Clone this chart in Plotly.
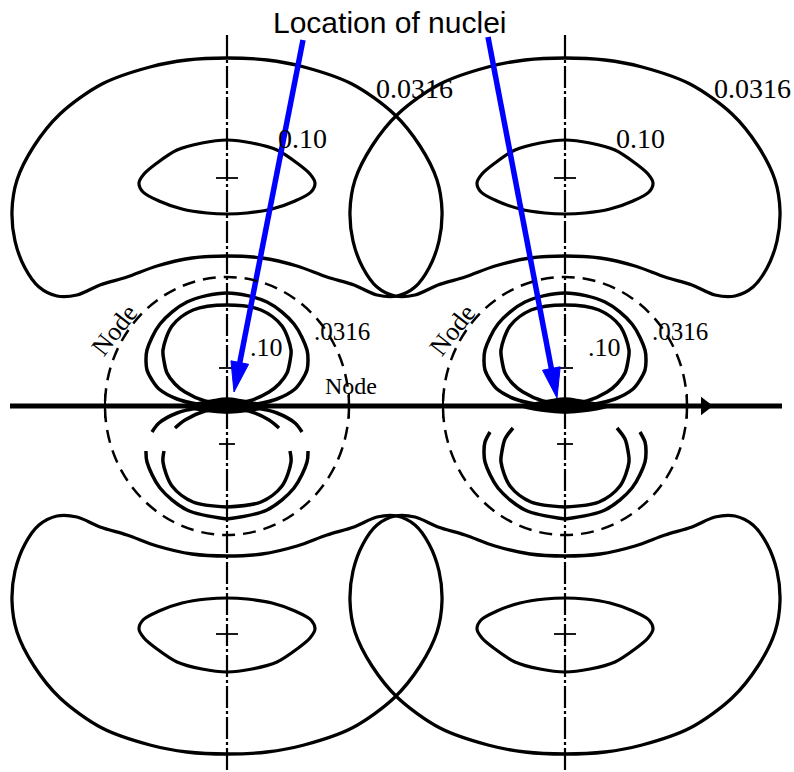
import numpy as np
import plotly.graph_objects as go

# ---------------------------------------------------------------------------
# Contour diagram of two 3p-type orbitals on neighbouring nuclei.
# Drawing units: 1 unit = 100 px, nucleus A at the origin.
# ---------------------------------------------------------------------------
nuclei_x = [0.0, 3.38]

# 0.0316 contour, large outer lobe (upper half-plane), right half of the loop,
# from the top of the symmetry axis round to the inner dip.
outer_lobe_dx = [0.00, 0.40, 0.77, 1.25, 1.67, 1.93, 2.10, 2.15, 2.12, 2.02, 1.88, 1.70, 1.50, 1.27, 1.00, 0.70, 0.35, 0.00]
outer_lobe_dy = [3.48, 3.46, 3.39, 3.22, 2.92, 2.60, 2.26, 1.95, 1.65, 1.38, 1.19, 1.10, 1.11, 1.21, 1.29, 1.40, 1.48, 1.50]

# 0.10 contour inside the outer lobe
mid_loop_dx = [0.00, 0.25, 0.50, 0.70, 0.83, 0.88, 0.84, 0.68, 0.45, 0.20, 0.00]
mid_loop_dy = [2.66, 2.63, 2.56, 2.43, 2.32, 2.23, 2.14, 2.05, 1.97, 1.93, 1.92]

# inner lobes, inside the radial node: 0.0316 and 0.10 contours
inner_0316_dx = [0.00, 0.40, 0.67, 0.80, 0.81, 0.80, 0.75, 0.68, 0.50, 0.30, 0.10, 0.00]
inner_0316_dy = [1.13, 1.04, 0.82, 0.56, 0.45, 0.36, 0.26, 0.17, 0.07, 0.02, 0.00, 0.00]
inner_010_dx = [0.00, 0.34, 0.55, 0.64, 0.63, 0.60, 0.52, 0.42, 0.22, 0.00]
inner_010_dy = [1.01, 0.96, 0.80, 0.56, 0.45, 0.33, 0.22, 0.14, 0.05, 0.02]

# stretches of the lower inner lobes that are not inked (dy ranges), per nucleus
lower_gaps = [(-0.42, -0.27), (-0.22, 0.01)]

# radial node (dashed), semi-axes
node_rx = 1.22
node_ry = 1.29

# blackened region round each nucleus
blob_dx = [-0.45, -0.30, -0.15, 0.00, 0.15, 0.30, 0.45, 0.30, 0.15, 0.00, -0.15, -0.30]
blob_dy = [0.00, 0.03, 0.06, 0.08, 0.06, 0.03, 0.00, -0.04, -0.06, -0.07, -0.06, -0.04]

# short cross ticks on the vertical axes (dy)
axis_tick_dy = [2.28, -2.28, 0.38, -0.38]
axis_tick_half = [0.11, 0.11, 0.08, 0.08]

# internuclear axis extent and its arrow
z_axis_x = [-2.17, 5.55]
z_arrow_x = [4.78]
vert_axis_dy = [3.71, -3.70]

# contour labels (dx, dy relative to each nucleus, text, size)
label_dx = [1.87, 0.75, 1.15, 0.39]
label_dy = [3.18, 2.68, 0.75, 0.585]
label_txt = ["0.0316", "0.10", ".0316", ".10"]
label_size = [28, 28, 25, 26]

# pointer arrows: tails at the caption, tips at the nuclei
arrow_tail_x = [0.76, 2.61]
arrow_tail_y = [3.66, 3.69]
arrow_tip_x = [0.07, 3.30]
arrow_tip_y = [0.14, 0.08]
caption = "Location of nuclei"
caption_xy = (1.63, 3.84)

X_RANGE = [-2.27, 5.67]
Y_RANGE = [-3.66, 4.06]

fig = go.Figure()


def closed_loop(dx, dy):
    """Mirror a right-half profile into a closed loop."""
    xs = list(dx) + [-v for v in reversed(dx[:-1])]
    ys = list(dy) + list(reversed(dy[:-1]))
    return np.array(xs), np.array(ys)


def add_line(xs, ys, width=3.0, color="black", dash=None, shape="spline"):
    fig.add_trace(go.Scatter(
        x=xs, y=ys, mode="lines",
        line=dict(color=color, width=width, shape=shape, smoothing=0.9,
                  dash=dash),
        hoverinfo="skip", showlegend=False, connectgaps=False))


def split_gap(xs, ys, gap):
    lo, hi = gap
    ox, oy = [], []
    prev_gap = False
    for x, y in zip(xs, ys):
        if lo < y < hi:
            if not prev_gap:
                ox.append(None)
                oy.append(None)
            prev_gap = True
            continue
        prev_gap = False
        ox.append(x)
        oy.append(y)
    return ox, oy


ox, oy = closed_loop(outer_lobe_dx, outer_lobe_dy)
mx, my = closed_loop(mid_loop_dx, mid_loop_dy)
ax_, ay_ = closed_loop(inner_0316_dx, inner_0316_dy)
bx_, by_ = closed_loop(inner_010_dx, inner_010_dy)

for k, cx in enumerate(nuclei_x):
    # outer lobes above and below the axis
    for sgn in (1, -1):
        add_line(ox + cx, sgn * oy, width=3.3)
        add_line(mx + cx, sgn * my, width=3.2)
    # inner lobes above the axis
    add_line(ax_ + cx, ay_, width=3.5)
    add_line(bx_ + cx, by_, width=3.5)
    # inner lobes below the axis, partly uninked
    for px, py in ((ax_, ay_), (bx_, by_)):
        gx, gy = split_gap(list(px + cx), list(-py), lower_gaps[k])
        add_line(gx, gy, width=3.5)
    # dashed radial node
    fig.add_shape(type="circle", xref="x", yref="y",
                  x0=cx - node_rx, x1=cx + node_rx,
                  y0=-node_ry, y1=node_ry,
                  line=dict(color="black", width=2.5, dash="13px,8px"))
    # vertical dash-dot symmetry axis
    add_line([cx, cx], vert_axis_dy, width=2.2, dash="22px,3px,3px,3px",
             shape="linear")
    # cross ticks on the vertical axis
    for ty, th in zip(axis_tick_dy, axis_tick_half):
        add_line([cx - th, cx + th], [ty, ty], width=1.8, shape="linear")
    # ticks where the node crosses the internuclear axis
    for sx in (-node_rx, node_rx):
        add_line([cx + sx, cx + sx], [-0.12, 0.12], width=2.0, shape="linear")
    # blackened nucleus region
    fig.add_trace(go.Scatter(
        x=[cx + v for v in blob_dx] + [cx + blob_dx[0]],
        y=blob_dy + [blob_dy[0]], mode="lines", fill="toself",
        fillcolor="black", line=dict(color="black", width=1.5,
                                     shape="spline"),
        hoverinfo="skip", showlegend=False))
    # contour labels
    for lx, ly, lt, ls in zip(label_dx, label_dy, label_txt, label_size):
        fig.add_annotation(x=cx + lx, y=ly, text=lt, showarrow=False,
                           font=dict(family="Liberation Serif", size=ls,
                                     color="black"))
    # rotated "Node" label on the dashed circle
    fig.add_annotation(x=cx - 1.13, y=0.76, text="Node", showarrow=False,
                       textangle=-52,
                       font=dict(family="Liberation Serif", size=26,
                                 color="black"))

# horizontal "Node" label at the first atom's node crossing
fig.add_annotation(x=nuclei_x[0] + 1.24, y=0.20, text="Node", showarrow=False,
                   font=dict(family="Liberation Serif", size=24, color="black"))

# internuclear (z) axis with arrow
add_line(z_axis_x, [0, 0], width=5, shape="linear")
fig.add_trace(go.Scatter(x=z_arrow_x, y=[0], mode="markers",
                         marker=dict(symbol="triangle-right", size=16,
                                     color="black"),
                         hoverinfo="skip", showlegend=False))

# blue pointer arrows
head_len, head_half = 0.30, 0.09
for tx, ty, hx, hy in zip(arrow_tail_x, arrow_tail_y, arrow_tip_x, arrow_tip_y):
    d = np.array([hx - tx, hy - ty])
    u = d / np.linalg.norm(d)
    n = np.array([-u[1], u[0]])
    tip = np.array([hx, hy])
    base = tip - head_len * u
    add_line([tx, base[0] + 0.05 * u[0]], [ty, base[1] + 0.05 * u[1]],
             width=5.5, color="#0000ff", shape="linear")
    p1 = base + head_half * n
    p2 = base - head_half * n
    fig.add_trace(go.Scatter(
        x=[tip[0], p1[0], p2[0], tip[0]], y=[tip[1], p1[1], p2[1], tip[1]],
        mode="lines", fill="toself", fillcolor="#0000ff",
        line=dict(color="#0000ff", width=1),
        hoverinfo="skip", showlegend=False))

fig.add_annotation(x=caption_xy[0], y=caption_xy[1], text=caption,
                   showarrow=False,
                   font=dict(family="Liberation Sans", size=30, color="black"))

fig.update_layout(
    width=794, height=772,
    margin=dict(l=0, r=0, t=0, b=0),
    paper_bgcolor="white", plot_bgcolor="white",
    xaxis=dict(range=X_RANGE, visible=False, fixedrange=True),
    yaxis=dict(range=Y_RANGE, visible=False, fixedrange=True),
    showlegend=False,
)

fig.write_html("out.html")
